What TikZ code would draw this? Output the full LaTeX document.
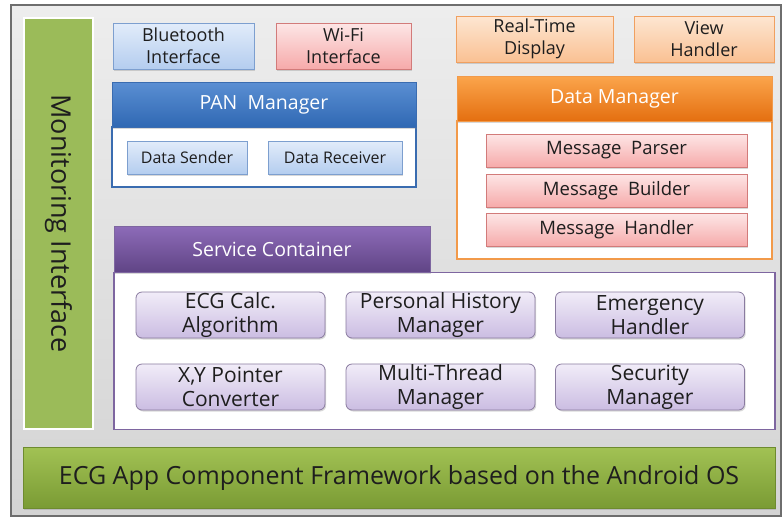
\documentclass[tikz,border=0pt]{standalone}
\usepackage{fontspec}
\setmainfont{Open Sans}
\usetikzlibrary{shadows}

\definecolor{txt}{HTML}{1E1E1E}
\definecolor{framegray}{HTML}{6E6E6E}
\definecolor{greenA}{HTML}{A2C254}
\definecolor{greenB}{HTML}{7A9B34}
\definecolor{greenM}{HTML}{9BBB59}
\definecolor{blueTop}{HTML}{E2ECFA}
\definecolor{blueBot}{HTML}{B4CDEF}
\definecolor{blueLine}{HTML}{7D9FCF}
\definecolor{panTop}{HTML}{5B8FD3}
\definecolor{panBot}{HTML}{2F68B3}
\definecolor{panLine}{HTML}{3A6CB0}
\definecolor{pinkTop}{HTML}{FDE6E6}
\definecolor{pinkBot}{HTML}{F6AAAA}
\definecolor{pinkLine}{HTML}{D27B7A}
\definecolor{orTop}{HTML}{FDE6D2}
\definecolor{orBot}{HTML}{FAC193}
\definecolor{orLine}{HTML}{F0A060}
\definecolor{dmTop}{HTML}{FBA54C}
\definecolor{dmBot}{HTML}{E46F10}
\definecolor{dmLine}{HTML}{F29A4A}
\definecolor{scTop}{HTML}{8D6BB8}
\definecolor{scBot}{HTML}{5F4485}
\definecolor{scLine}{HTML}{7E66A0}
\definecolor{lvTop}{HTML}{F1ECF8}
\definecolor{lvBot}{HTML}{CBBDE2}
\definecolor{lvLine}{HTML}{8A7BA0}

\tikzset{
  base/.style={draw, line width=0.8pt, inner sep=0pt, outer sep=0pt,
    align=center, text=txt,
    drop shadow={shadow xshift=1.2pt, shadow yshift=-1.5pt, opacity=0.3}},
  bluebox/.style={base, draw=blueLine, top color=blueTop, bottom color=blueBot},
  pinkbox/.style={base, draw=pinkLine, top color=pinkTop, bottom color=pinkBot},
  orangebox/.style={base, draw=orLine, top color=orTop, bottom color=orBot},
  lavbox/.style={base, draw=lvLine, top color=lvTop, bottom color=lvBot,
    rounded corners=6pt},
  header/.style={base, text=white, line width=0.6pt,
    font=\fontsize{19.5}{23}\selectfont},
  body/.style={draw, fill=white, line width=1.5pt, inner sep=0pt, outer sep=0pt},
  lbl/.style={font=\fontsize{18}{22}\selectfont},
  msg/.style={font=\fontsize{18.5}{22}\selectfont},
  small/.style={font=\fontsize{16}{19}\selectfont},
  svc/.style={font=\fontsize{21}{24}\selectfont},
}

\begin{document}
\begin{tikzpicture}[x=1pt, y=-1pt]
\useasboundingbox (0,0) rectangle (783,517);

% outer frame with grey gradient
\node[draw=framegray, line width=1.5pt, top color=white!93!black,
      bottom color=white!83!black, inner sep=0pt,
      minimum width=770pt, minimum height=511pt] (frame) at (396,260.5) {};

% left column
\node[draw=white, line width=2pt, fill=greenM, inner sep=0pt,
      minimum width=69pt, minimum height=411pt,
      drop shadow={shadow xshift=1pt, shadow yshift=-1pt, opacity=0.25}]
      (mon) at (58.5,223.5) {};
\node[rotate=-90, text=txt, font=\fontsize{27}{30}\selectfont] (montxt)
      at (mon.center) {Monitoring Interface};

% communication side
\node[bluebox, lbl, minimum width=141pt, minimum height=46pt] (bt)
      at (183.5,46) {Bluetooth\\Interface};
\node[pinkbox, lbl, minimum width=135pt, minimum height=46pt] (wifi)
      at (343.5,46) {Wi-Fi\\Interface};

\node[body, draw=panLine, minimum width=304pt, minimum height=60pt] (panbody)
      at (264,157) {};
\node[header, draw=panLine, top color=panTop, bottom color=panBot,
      minimum width=304pt, minimum height=45pt] (pan)
      at (264,104.5) {PAN\ \ Manager};
\node[bluebox, small, minimum width=120pt, minimum height=33pt] (send)
      at (187,157.5) {Data Sender};
\node[bluebox, small, minimum width=134pt, minimum height=33pt] (recv)
      at (335,157.5) {Data Receiver};

% display side
\node[orangebox, lbl, minimum width=157pt, minimum height=46pt] (rtd)
      at (534.5,39) {Real-Time\\Display};
\node[orangebox, lbl, minimum width=140pt, minimum height=46pt] (view)
      at (704,39) {View\\Handler};

\node[body, draw=dmLine, minimum width=315pt, minimum height=138pt] (dmbody)
      at (614.5,190) {};
\node[header, draw=dmLine, top color=dmTop, bottom color=dmBot,
      minimum width=315pt, minimum height=45pt] (dm)
      at (614.5,98.5) {Data Manager};
\node[pinkbox, msg, minimum width=261pt, minimum height=33pt] (parse)
      at (616.5,150.5) {Message\ \ Parser};
\node[pinkbox, msg, minimum width=261pt, minimum height=33pt] (build)
      at (616.5,190.5) {Message\ \ Builder};
\node[pinkbox, msg, minimum width=261pt, minimum height=33pt] (handle)
      at (616.5,230) {Message\ \ Handler};

% service container
\node[body, draw=scLine, minimum width=661pt, minimum height=157pt] (scbody)
      at (444.5,351) {};
\node[header, draw=scLine, top color=scTop, bottom color=scBot,
      minimum width=316pt, minimum height=46pt] (sc)
      at (272,249.5) {Service\ Container};

\node[lavbox, svc, minimum width=189pt, minimum height=46pt] (ecg)
      at (230.5,315) {ECG Calc.\\Algorithm};
\node[lavbox, svc, minimum width=189pt, minimum height=46pt] (hist)
      at (440.5,315) {Personal History\\Manager};
\node[lavbox, svc, minimum width=189pt, minimum height=46pt] (emer)
      at (650,315) {Emergency\\Handler};
\node[lavbox, svc, minimum width=189pt, minimum height=46pt] (xy)
      at (230.5,387) {X,Y Pointer\\Converter};
\node[lavbox, svc, minimum width=189pt, minimum height=46pt] (mt)
      at (440.5,387) {Multi-Thread\\Manager};
\node[lavbox, svc, minimum width=189pt, minimum height=46pt] (sec)
      at (650,387) {Security\\Manager};

% base framework bar
\node[draw=greenB!90!black, line width=0.5pt, top color=greenA, bottom color=greenB,
      inner sep=0pt, text=txt, font=\fontsize{25}{28}\selectfont,
      minimum width=752pt, minimum height=61pt,
      drop shadow={shadow xshift=1.2pt, shadow yshift=-1.5pt, opacity=0.3}]
      (os) at (399,477.5) {ECG App Component Framework based on the Android OS};
\end{tikzpicture}
\end{document}
